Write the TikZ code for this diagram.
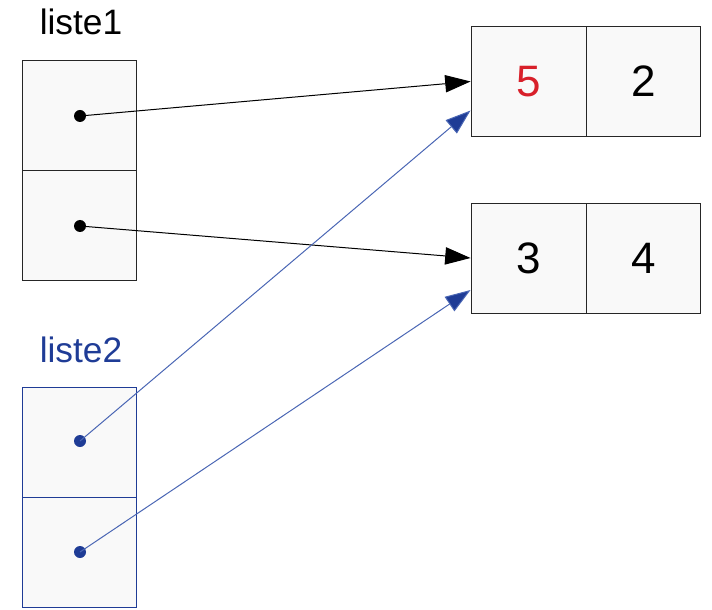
\documentclass[tikz,border=0pt]{standalone}
\usepackage{xcolor}
\usepackage{fontspec}
\setmainfont{Liberation Sans}
\usetikzlibrary{arrows.meta, calc}

\definecolor{bleuListe}{HTML}{1F3C96}
\definecolor{bleuFleche}{HTML}{4A66B4}
\definecolor{rougeVal}{HTML}{D8202A}
\definecolor{fondCase}{HTML}{F9F9F9}

\begin{document}
\begin{tikzpicture}[x=0.75pt, y=-0.75pt,
	cellule/.style = {draw=black!85, fill=fondCase, line width=0.7pt,
		minimum width=85.5pt, minimum height=82.5pt, inner sep=0pt,
		font=\fontsize{33}{38}\selectfont},
	titre/.style = {font=\fontsize{26.5}{30}\selectfont},
	point/.style = {circle, fill, inner sep=0pt, minimum size=9pt},
	fleche/.style = {line width=0.75pt, -{Triangle[length=19pt, width=13pt]}}
	]
	% cadre de l'image
	\useasboundingbox (0,0) rectangle (712,609);
	
	% liste1 (en noir)
	\node[titre] (nom1) at (81,22) {liste1};
	\node[cellule] (l1a) at (79,115) {};
	\node[cellule] (l1b) at (79,225) {};
	\node[point] (p1a) at (80,116) {};
	\node[point] (p1b) at (80,226) {};
	
	% liste2 (en bleu)
	\node[titre, text=bleuListe] (nom2) at (81,350) {liste2};
	\node[cellule, draw=bleuListe] (l2a) at (79,442) {};
	\node[cellule, draw=bleuListe] (l2b) at (79,552) {};
	\node[point, bleuListe] (p2a) at (80,441) {};
	\node[point, bleuListe] (p2b) at (80,552) {};
	
	% les deux couples
	\node[cellule, minimum width=87pt] (c5) at (529,81.5) {\textcolor{rougeVal}{5}};
	\node[cellule, minimum width=85pt] (c2) at (643.5,81.5) {2};
	\node[cellule, minimum width=87pt] (c3) at (529,258) {3};
	\node[cellule, minimum width=85pt] (c4) at (643.5,258) {4};
	
	\coordinate (b5) at ($(c5.west)+(0,29)$);
	\coordinate (b3) at ($(c3.west)+(0,32)$);
	
	% les fleches
	\draw[fleche] (p1a.center) -- (c5.west);
	\draw[fleche] (p1b.center) -- (c3.west);
	\draw[fleche, bleuFleche, -{Triangle[length=19pt, width=13pt, fill=bleuListe]}] (p2a.center) -- (b5);
	\draw[fleche, bleuFleche, -{Triangle[length=19pt, width=13pt, fill=bleuListe]}] (p2b.center) -- (b3);
	
\end{tikzpicture}
\end{document}
